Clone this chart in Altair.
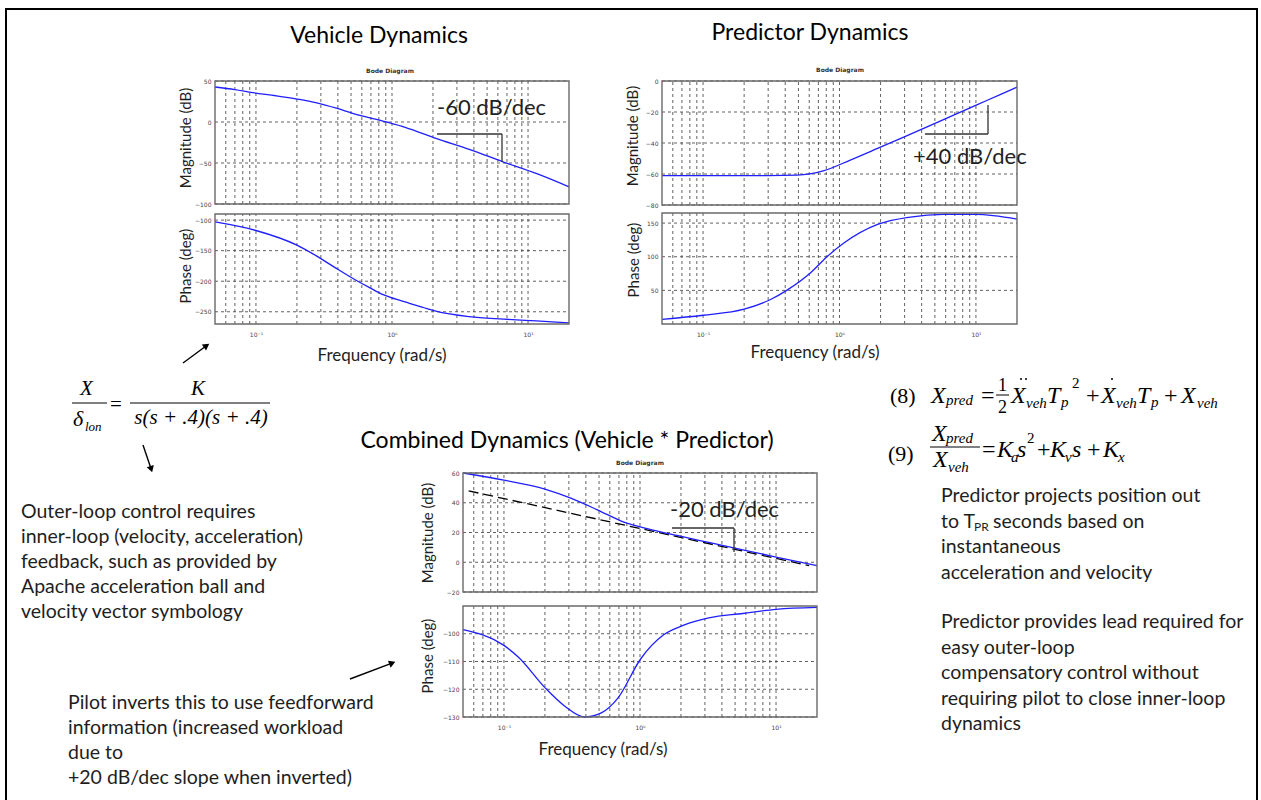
import altair as alt
import pandas as pd

W, H = 1261, 800
SANS = "Lato"
SERIF = "Liberation Serif"
TICKFONT = "DejaVu Sans"
INK = "#1e1e1e"
BLUE = "#1f1fff"
GRIDC = "#3a3a3a"
FRAMEC = "#6a6a6a"

# ---------------------------------------------------------------- data
FREQ_LO, FREQ_HI = 0.05, 20.0
GRID_FREQS = [0.06, 0.07, 0.08, 0.09, 0.1, 0.2, 0.3, 0.4, 0.5, 0.6, 0.7, 0.8, 0.9,
              1, 2, 3, 4, 5, 6, 7, 8, 9, 10]
DECADES = [0.1, 1, 10]

# vehicle  K / (s (s+.4)(s+.4))
VEH_MAG_F = [0.05, 0.07, 0.095, 0.14, 0.2, 0.28, 0.39, 0.52, 0.91, 1.25, 2.13, 3.75, 6.6, 11.6, 20]
VEH_MAG_DB = [42.7, 39.5, 35.8, 32.0, 28.0, 23.3, 16.8, 10.3, 0.0, -6.5, -20.3, -33.7, -48.8, -63.0, -79.0]
VEH_PH_F = [0.05, 0.1, 0.2, 0.28, 0.39, 0.54, 0.69, 0.86, 1.21, 1.7, 2.1, 3.7, 6.6, 11.5, 20]
VEH_PH_DEG = [-103, -117, -141, -159, -179, -198, -211, -222, -233, -243, -249, -258, -262, -265, -268]

# predictor  Ka s^2 + Kv s + Kx
PRED_MAG_F = [0.05, 0.3, 0.49, 0.76, 1.2, 1.9, 2.9, 4.6, 7.2, 12, 20]
PRED_MAG_DB = [-61, -61, -60.7, -58, -51, -43.5, -36.5, -28.8, -21.2, -12.6, -4]
PRED_PH_F = [0.05, 0.1, 0.2, 0.31, 0.41, 0.62, 0.81, 1.07, 1.9, 3.3, 5.8, 10, 20]
PRED_PH_DEG = [7, 13, 22, 36, 50, 77, 100, 120, 148, 159, 163, 163, 156]

# combined  vehicle * predictor, with the -20 dB/dec reference line
COMB_MAG_F = [0.05, 0.1, 0.2, 0.31, 0.49, 0.76, 1.2, 1.87, 3.2, 5.7, 10, 20]
COMB_MAG_DB = [60, 55.2, 49.2, 43.1, 35.1, 27, 22, 18, 13.3, 8.3, 3.5, -2.2]
COMB_REF_F = [0.055, 17.5]
COMB_REF_DB = [48, -2.3]
COMB_PH_F = [0.05, 0.1, 0.128, 0.2, 0.28, 0.39, 0.52, 0.69, 1.01, 1.5, 2.1, 3.2, 5.7, 10, 20]
COMB_PH_DEG = [-98.5, -104.2, -108.5, -119.4, -126.1, -130, -128.5, -123.1, -109.1,
               -100.3, -96.9, -94.3, -92.7, -91.2, -90.5]

# axis limits and tick values
VEH_MAG_LIM, VEH_MAG_TICKS = (-100, 50), [-100, -50, 0, 50]
VEH_PH_LIM, VEH_PH_TICKS = (-270, -90), [-250, -200, -150, -100]
PRED_MAG_LIM, PRED_MAG_TICKS = (-80, 0), [-80, -60, -40, -20, 0]
PRED_PH_LIM, PRED_PH_TICKS = (0, 165), [50, 100, 150]
COMB_MAG_LIM, COMB_MAG_TICKS = (-20, 60), [-20, 0, 20, 40, 60]
COMB_PH_LIM, COMB_PH_TICKS = (-130, -90), [-130, -120, -110, -100]

LEFT_NOTE = ["Outer-loop control requires",
             "inner-loop (velocity, acceleration)",
             "feedback, such as provided by",
             "Apache acceleration ball and",
             "velocity vector symbology"]
PILOT_NOTE = ["Pilot inverts this to use feedforward",
              "information (increased workload",
              "due to",
              "+20 dB/dec slope when inverted)"]
PRED_NOTE_A = ["Predictor projects position out", None, "instantaneous", "acceleration and velocity"]
PRED_NOTE_B = ["Predictor provides lead required for",
               "easy outer-loop",
               "compensatory control without",
               "requiring pilot to close inner-loop",
               "dynamics"]

# ---------------------------------------------------------------- layout (pixels)
VEH_X, PRED_X, COMB_X = (215, 569), (662, 1017), (463, 817)
VEH_MAG_Y, VEH_PH_Y = (81, 204), (214, 324)
PRED_MAG_Y, PRED_PH_Y = (81, 205), (213, 324)
COMB_MAG_Y, COMB_PH_Y = (473, 592), (606, 717)

DECADE_LABEL = "datum.value < 0.5 ? '10\u207b\u00b9' : (datum.value < 5 ? '10\u2070' : '10\u00b9')"
BODY = 19.5

layers = []


def bode_panel(xpix, ypix, ylim, yticks, curves, freq_labels=False):
    xs = alt.Scale(type="log", domain=[FREQ_LO, FREQ_HI], range=list(xpix), nice=False)
    ys = alt.Scale(domain=list(ylim), range=[ypix[1], ypix[0]], nice=False, zero=False)
    noax = dict(axis=None)

    vgrid = pd.DataFrame({"f": GRID_FREQS, "lo": ylim[0], "hi": ylim[1]})
    layers.append(
        alt.Chart(vgrid).mark_rule(color=GRIDC, strokeWidth=0.8, strokeDash=[3, 3]).encode(
            x=alt.X("f:Q", scale=xs, **noax), y=alt.Y("lo:Q", scale=ys, **noax), y2="hi:Q"))
    hgrid = pd.DataFrame({"v": yticks, "f0": FREQ_LO, "f1": FREQ_HI})
    layers.append(
        alt.Chart(hgrid).mark_rule(color=GRIDC, strokeWidth=0.8, strokeDash=[3, 3]).encode(
            y=alt.Y("v:Q", scale=ys, **noax), x=alt.X("f0:Q", scale=xs, **noax), x2="f1:Q"))

    for fvals, vvals, style in curves:
        df = pd.DataFrame({"f": fvals, "v": vvals})
        layers.append(alt.Chart(df).mark_line(**style).encode(
            x=alt.X("f:Q", scale=xs, **noax), y=alt.Y("v:Q", scale=ys, **noax)))

    if freq_labels:
        xaxis = alt.Axis(orient="bottom", offset=ypix[1] - H, values=DECADES, labelExpr=DECADE_LABEL,
                         domain=False, ticks=False, grid=False, title=None, labelFont=TICKFONT,
                         labelFontSize=6, labelColor="#444", labelPadding=7, labelFlush=False)
    else:
        xaxis = None
    yaxis = alt.Axis(orient="left", offset=-xpix[0], values=yticks, domain=False, ticks=False,
                     grid=False, title=None, labelFont=TICKFONT, labelFontSize=6, labelColor="#444",
                     labelPadding=4, labelOverlap=False)
    box = pd.DataFrame({"f0": [FREQ_LO], "f1": [FREQ_HI], "lo": [ylim[0]], "hi": [ylim[1]]})
    layers.append(
        alt.Chart(box).mark_rect(fillOpacity=0, stroke=FRAMEC, strokeWidth=1.4).encode(
            x=alt.X("f0:Q", scale=xs, axis=xaxis), x2="f1:Q",
            y=alt.Y("lo:Q", scale=ys, axis=yaxis), y2="hi:Q"))


def text(s, x, y, size=BODY, font=SANS, align="left", baseline="middle", angle=0,
         style="normal", weight="normal", color=INK):
    props = dict(text=s, fontSize=size, font=font, align=align, baseline=baseline,
                 fontStyle=style, fontWeight=weight, color=color)
    if angle:
        props["angle"] = angle
    layers.append(alt.Chart().mark_text(**props).encode(x=alt.value(x), y=alt.value(y)))


def segment(x1, y1, x2, y2, color="#333", width=1.3):
    layers.append(alt.Chart().mark_rule(color=color, strokeWidth=width).encode(
        x=alt.value(x1), y=alt.value(y1), x2=alt.value(x2), y2=alt.value(y2)))


def dot(x, y):
    layers.append(alt.Chart().mark_circle(size=4, color="black", opacity=1).encode(
        x=alt.value(x), y=alt.value(y)))


def arrow(x1, y1, cx, cy, angle):
    segment(x1, y1, cx, cy, color="black", width=1.4)
    layers.append(alt.Chart().mark_point(shape="triangle", filled=True, size=55, color="black",
                                         opacity=1, angle=angle).encode(
        x=alt.value(cx), y=alt.value(cy)))


# slide frame
layers.append(alt.Chart().mark_rect(fillOpacity=0, stroke="black", strokeWidth=2).encode(
    x=alt.value(6), x2=alt.value(1257), y=alt.value(9), y2=alt.value(812)))

LINE = dict(color=BLUE, strokeWidth=1.3, interpolate="monotone")

# ---- Vehicle dynamics
bode_panel(VEH_X, VEH_MAG_Y, VEH_MAG_LIM, VEH_MAG_TICKS, [(VEH_MAG_F, VEH_MAG_DB, LINE)])
bode_panel(VEH_X, VEH_PH_Y, VEH_PH_LIM, VEH_PH_TICKS, [(VEH_PH_F, VEH_PH_DEG, LINE)], freq_labels=True)
text("Vehicle Dynamics", 379, 36, size=23, align="center", color="black")
text("Bode Diagram", 390, 71, size=6, font=TICKFONT, weight="bold", align="center", color="#333")
text("Magnitude (dB)", 186, 138, size=15, align="center", angle=270)
text("Phase (deg)", 186, 266, size=15, align="center", angle=270)
text("Frequency (rad/s)", 382, 356, size=17, align="center")
text("-60 dB/dec", 437, 108, size=22, color="#222")
segment(437, 134, 502, 134)
segment(502, 134, 502, 162)

# ---- Predictor dynamics
bode_panel(PRED_X, PRED_MAG_Y, PRED_MAG_LIM, PRED_MAG_TICKS, [(PRED_MAG_F, PRED_MAG_DB, LINE)])
bode_panel(PRED_X, PRED_PH_Y, PRED_PH_LIM, PRED_PH_TICKS, [(PRED_PH_F, PRED_PH_DEG, LINE)], freq_labels=True)
text("Predictor Dynamics", 810, 33, size=23, align="center", color="black")
text("Bode Diagram", 840, 70, size=6, font=TICKFONT, weight="bold", align="center", color="#333")
text("Magnitude (dB)", 633, 136, size=15, align="center", angle=270)
text("Phase (deg)", 634, 260, size=15, align="center", angle=270)
text("Frequency (rad/s)", 815, 353, size=17, align="center")
text("+40 dB/dec", 913, 157, size=22, color="#222")
segment(925, 134, 988, 134)
segment(988, 105, 988, 134)

# ---- Combined dynamics
bode_panel(COMB_X, COMB_MAG_Y, COMB_MAG_LIM, COMB_MAG_TICKS,
           [(COMB_REF_F, COMB_REF_DB, dict(color="black", strokeWidth=1.3, strokeDash=[10, 5])),
            (COMB_MAG_F, COMB_MAG_DB, LINE)])
bode_panel(COMB_X, COMB_PH_Y, COMB_PH_LIM, COMB_PH_TICKS, [(COMB_PH_F, COMB_PH_DEG, LINE)], freq_labels=True)
text("Combined Dynamics (Vehicle * Predictor)", 567, 441, size=23, align="center", color="black")
text("Bode Diagram", 640, 463, size=6, font=TICKFONT, weight="bold", align="center", color="#333")
text("Magnitude (dB)", 428, 533, size=15, align="center", angle=270)
text("Phase (deg)", 428, 656, size=15, align="center", angle=270)
text("Frequency (rad/s)", 603, 750, size=17, align="center")
text("-20 dB/dec", 670, 510, size=22, color="#222")
segment(672, 528, 734, 528)
segment(734, 528, 734, 552)

# ---- vehicle transfer function
text("X", 80, 395, size=21, font=SERIF, style="italic", baseline="alphabetic", color="black")
segment(72, 403, 107, 403, color="black", width=1)
text("\u03b4", 73, 426, size=22, font=SERIF, style="italic", baseline="alphabetic", color="black")
text("lon", 85, 431, size=13, font=SERIF, style="italic", baseline="alphabetic", color="black")
text("=", 110, 411, size=21, font=SERIF, baseline="alphabetic", color="black")
text("K", 191, 395, size=21, font=SERIF, style="italic", baseline="alphabetic", color="black")
segment(130, 403, 270, 403, color="black", width=1)
text("s(s + .4)(s + .4)", 201, 424, size=21, font=SERIF, style="italic", align="center",
     baseline="alphabetic", color="black")

# ---- predictor equations (8) and (9)
EQ = dict(font=SERIF, baseline="alphabetic", color="black")
IT = dict(EQ, style="italic")
text("(8)", 890, 403, size=22, **EQ)
text("X", 931, 403, size=24, **IT)
text("pred", 946, 405, size=15, **IT)
text("=", 981, 403, size=24, **EQ)
text("1", 998, 391, size=18, **EQ)
segment(996, 395, 1009, 395, color="black", width=1)
text("2", 998, 413, size=18, **EQ)
text("X", 1011, 403, size=24, **IT)
dot(1021, 379)
dot(1026, 379)
text("veh", 1026, 408, size=15, **IT)
text("T", 1047, 403, size=24, **IT)
text("p", 1061, 407, size=15, **IT)
text("2", 1072, 388, size=15, **EQ)
text("+", 1086, 403, size=24, **EQ)
text("X", 1101, 403, size=24, **IT)
dot(1112, 379)
text("veh", 1116, 408, size=15, **IT)
text("T", 1137, 403, size=24, **IT)
text("p", 1151, 407, size=15, **IT)
text("+", 1164, 403, size=24, **EQ)
text("X", 1181, 403, size=24, **IT)
text("veh", 1197, 408, size=15, **IT)

text("(9)", 888, 461, size=22, **EQ)
text("X", 932, 441, size=24, **IT)
text("pred", 946, 443, size=15, **IT)
segment(930, 447, 980, 447, color="black", width=1)
text("X", 933, 467, size=24, **IT)
text("veh", 948, 472, size=15, **IT)
text("=", 982, 457, size=24, **EQ)
text("K", 997, 457, size=24, **IT)
text("a", 1011, 462, size=15, **IT)
text("s", 1017, 457, size=24, **IT)
text("2", 1027, 443, size=15, **EQ)
text("+", 1037, 457, size=24, **EQ)
text("K", 1050, 457, size=24, **IT)
text("v", 1065, 462, size=15, **IT)
text("s", 1072, 457, size=24, **IT)
text("+", 1087, 457, size=24, **EQ)
text("K", 1103, 457, size=24, **IT)
text("x", 1118, 462, size=15, **IT)

# ---- notes
for i, s in enumerate(LEFT_NOTE):
    text(s, 21, 512 + 25 * i)
for i, s in enumerate(PILOT_NOTE):
    text(s, 68, 703 + 25 * i)
for i, s in enumerate(PRED_NOTE_A):
    if s is not None:
        text(s, 941, 496 + 25.7 * i)
text("to T", 941, 522)
text("PR", 974, 527, size=12)
text("seconds based on", 993, 522)
for i, s in enumerate(PRED_NOTE_B):
    text(s, 941, 622 + 25.5 * i)

# ---- arrows
arrow(183, 363, 205.7, 346.3, 55)
arrow(143, 445, 150.9, 468.2, 163)
arrow(350, 679, 391.3, 663.4, 69)

chart = (
    alt.layer(*layers, data=alt.Data(values=[{}]))
    .resolve_scale(x="independent", y="independent")
    .resolve_axis(x="independent", y="independent")
    .properties(width=W, height=H, autosize=alt.AutoSizeParams(type="none"), padding=0)
    .configure_view(stroke=None)
)

chart.save("out.html", embed_options={"renderer": "svg", "actions": False})
